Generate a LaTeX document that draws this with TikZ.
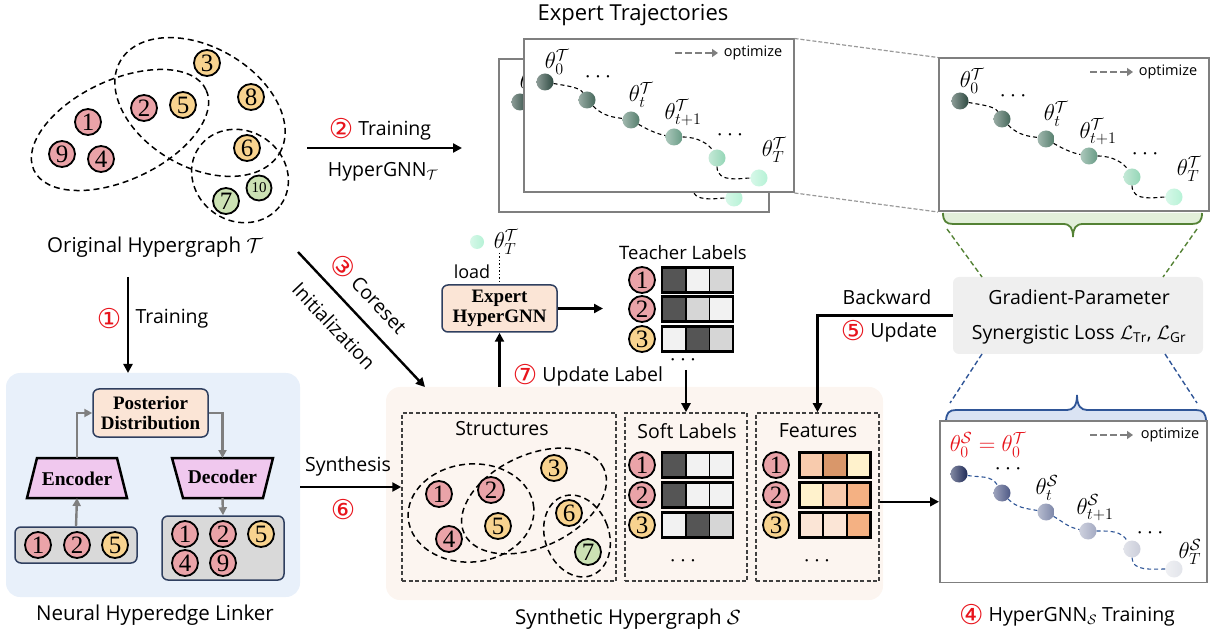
\RequirePackage{fix-cm}
\documentclass[tikz,border=0pt]{standalone}
\usepackage{fontspec}
\setmainfont{Open Sans}
\newfontfamily\serifb{Liberation Serif}
\newfontfamily\symf{DejaVu Sans}
\usetikzlibrary{arrows.meta,calc}
\definecolor{cpink}{HTML}{EAA3A8}
\definecolor{corange}{HTML}{F8D38F}
\definecolor{cgreen}{HTML}{CCE2B4}
\definecolor{peach}{HTML}{FBE5D6}
\definecolor{boxblue}{HTML}{2F3F5F}
\definecolor{panelblue}{HTML}{E8F0FA}
\definecolor{panelpeach}{HTML}{FCF5F0}
\definecolor{lav}{HTML}{F0C8EE}
\definecolor{gborder}{HTML}{7F7F7F}
\definecolor{bgreen}{HTML}{548235}
\definecolor{lgreen}{HTML}{E2EFDA}
\definecolor{bblue}{HTML}{2F5597}
\definecolor{lblue}{HTML}{DAE3F3}
\definecolor{cred}{HTML}{E8141C}
\definecolor{sdark}{HTML}{555555}
\definecolor{slight}{HTML}{F2F2F2}
\definecolor{smid}{HTML}{D6D6D6}
\definecolor{fa}{HTML}{F8CBAD}
\definecolor{fb}{HTML}{D9976A}
\definecolor{fc}{HTML}{FFF2CC}
\definecolor{fd}{HTML}{F4B183}
\definecolor{fe}{HTML}{FBE5D6}
\definecolor{gbg}{HTML}{EFEFEF}
\definecolor{ibg}{HTML}{D9D9D9}
\definecolor{t0}{HTML}{2E4A41}
\definecolor{t1}{HTML}{46685B}
\definecolor{t2}{HTML}{557E6D}
\definecolor{t3}{HTML}{689B85}
\definecolor{t4}{HTML}{94D6B6}
\definecolor{t5}{HTML}{B6F2D6}
\definecolor{s0}{HTML}{1E2A57}
\definecolor{s1}{HTML}{4D5885}
\definecolor{s2}{HTML}{7C86A8}
\definecolor{s3}{HTML}{A4AAC2}
\definecolor{s4}{HTML}{CACDDA}
\definecolor{s5}{HTML}{E2E4EA}
\newcommand\cn[1]{{\color{cred}\symf\fontsize{21}{21}\selectfont\raisebox{-0.13em}{\scalebox{1.3}{#1}}}}
\tikzset{
 vtx/.style={circle,draw=black,line width=1.8pt,minimum size=26pt,inner sep=0pt,font=\serifb\fontsize{25}{25}\selectfont},
 pk/.style={vtx,fill=cpink}, og/.style={vtx,fill=corange}, gn/.style={vtx,fill=cgreen},
 hedge/.style={line width=1.5pt,dash pattern=on 6pt off 4pt},
 arr/.style={line width=2.4pt,-{Triangle[length=9pt,width=9pt]}},
 garr/.style={line width=2.4pt,draw=gborder,-{Triangle[length=8pt,width=8pt]}},
 lbl/.style={font=\fontsize{19.5}{22}\selectfont, inner sep=1pt},
 mth/.style={font=\fontsize{23}{23}\selectfont, inner sep=0pt},
 optarr/.style={draw=gborder,line width=2.6pt,dash pattern=on 7pt off 3pt,-{Triangle[length=6pt,width=8pt]}},
 optx/.style={font=\fontsize{14.5}{14.5}\selectfont},
 panel/.style={draw=gborder,line width=1.5pt,fill=white,inner sep=0pt,anchor=south west},
 tball/.style={circle,inner sep=0pt,minimum size=17pt,left color=#1!55!white,right color=#1},
 gdash/.style={draw=gborder!80,line width=1.2pt,dash pattern=on 4pt off 2pt},
 pbox/.style={fill=peach,draw=boxblue,line width=1.5pt,rounded corners=6pt,align=center,inner sep=0pt,font=\serifb\bfseries\fontsize{19}{20}\selectfont},
 trap/.style={fill=lav,draw=black,line width=2.5pt},
 dbox/.style={draw=black!75,line width=1.5pt,dash pattern=on 4pt off 2.5pt,inner sep=0pt},
}
\newcommand\cellbar[4]{%
 \begin{scope}[shift={(#1)}]
 \fill[#2] (-35.5,-12.5) rectangle (-11.8,12.5);
 \fill[#3] (-11.8,-12.5) rectangle (11.8,12.5);
 \fill[#4] (11.8,-12.5) rectangle (35.5,12.5);
 \draw[line width=1.6pt] (-11.8,-12.5) -- (-11.8,12.5) (11.8,-12.5) -- (11.8,12.5);
 \draw[line width=2.6pt] (-35.5,-12.5) rectangle (35.5,12.5);
 \end{scope}}
\newcommand\trajT{%
 \node[panel,minimum width=270pt,minimum height=153pt] (pan) at (0,0) {};
 \node[tball=t0] (b0) at (22,111) {};
 \node[tball=t1] (b1) at (64,93) {};
 \node[tball=t2] (b2) at (108,73) {};
 \node[tball=t3] (b3) at (151,56) {};
 \node[tball=t4] (b4) at (194,35) {};
 \node[tball=t5] (b5) at (236,15) {};
 \draw[line width=1.1pt,dash pattern=on 4pt off 3pt] (b0) to[out=-10,in=120] (b1) to[out=-45,in=170] (b2) to[out=-30,in=170] (b3) to[out=0,in=120] (b4) to[out=-90,in=180] (b5);
 \node[mth] (l0) at (34,131) {$\theta_0^{\mathcal{T}}$};
 \node[mth] (d1) at (75,116) {$\cdots$};
 \node[mth] (lt) at (118,98) {$\theta_t^{\mathcal{T}}$};
 \node[mth] (lt1) at (160,80) {$\theta_{t+1}^{\mathcal{T}}$};
 \node[mth] (d2) at (207,58) {$\cdots$};
 \node[mth] (lT) at (251,43) {$\theta_T^{\mathcal{T}}$};
 \coordinate (oa) at (152,140); \coordinate (ob) at (195,140);
 \draw[optarr] (oa) -- (ob);
 \node[optx] (ot) at (230,140) {optimize};
}
\begin{document}
\begin{tikzpicture}[x=1pt,y=1pt]
\useasboundingbox (0,0) rectangle (1214,632);
% ---------- backgrounds ----------
\node[fill=panelblue,rounded corners=14pt,minimum width=294pt,minimum height=224pt,inner sep=0pt] (lk) at (153,147) {};
\node[fill=panelpeach,rounded corners=14pt,minimum width=497pt,minimum height=213pt,inner sep=0pt] (syn) at (634.5,138.5) {};
% ---------- original hypergraph ----------
\draw[hedge, rotate around={25:(120,502)}] (120,502) ellipse [x radius=95, y radius=50];
\draw[hedge, rotate around={-30:(200,525)}] (200,525) ellipse [x radius=92, y radius=60];
\draw[hedge, rotate around={-35:(240,456)}] (240,456) ellipse [x radius=50, y radius=45];
\node[og] (g3) at (207,569) {3};
\node[og] (g8) at (251,535) {8};
\node[pk] (g2) at (144,524) {2};
\node[og] (g5) at (183,527) {5};
\node[pk] (g1) at (88,510) {1};
\node[pk] (g9) at (62,478) {9};
\node[pk] (g4) at (101,473) {4};
\node[og] (g6) at (247,484) {6};
\node[gn,minimum size=25pt,font=\serifb\fontsize{15}{15}\selectfont] (g10) at (259,444) {10};
\node[gn] (g7) at (226,431) {7};
\node[lbl,font=\fontsize{20.5}{22}\selectfont] (orig) at (155,385) {Original Hypergraph $\mathcal{T}$};
% ---------- step 2 ----------
\coordinate (a2s) at (307,484); \coordinate (a2e) at (462,484);
\draw[arr] (a2s) -- (a2e);
\node[lbl] (t2) at (380,503) {\cn{②} Training};
\node[lbl] (hg) at (383,460) {HyperGNN$_{\mathcal{T}}$};
% ---------- expert trajectories ----------
\node[lbl,font=\fontsize{22}{24}\selectfont] (et) at (633,617) {Expert Trajectories};
\begin{scope}[shift={(498,419)}, name prefix=k-] \trajT \end{scope}
\begin{scope}[shift={(523,439)}, name prefix=f-] \trajT \end{scope}
\begin{scope}[shift={(938,420)}, name prefix=r-] \trajT \end{scope}
\draw[gdash] (f-pan.north east) -- (r-pan.north west);
\draw[gdash] (f-pan.south east) -- (r-pan.south west);
% green brace
\fill[lgreen] (943,419) .. controls (943,411) and (946,408) .. (953,408) -- (1063,408) .. controls (1070,408) and (1073,404) .. (1073,395) .. controls (1073,404) and (1076,408) .. (1083,408) -- (1192,408) .. controls (1199,408) and (1202,411) .. (1202,419) -- cycle;
\draw[bgreen,line width=1.8pt] (943,419) .. controls (943,411) and (946,408) .. (953,408) -- (1063,408) .. controls (1070,408) and (1073,404) .. (1073,395) .. controls (1073,404) and (1076,408) .. (1083,408) -- (1192,408) .. controls (1199,408) and (1202,411) .. (1202,419);
% ---------- gradient box ----------
\node[fill=gbg,rounded corners=6pt,minimum width=250pt,minimum height=77pt,inner sep=0pt] (grad) at (1078,316.5) {};
\node[lbl] (gp1) at (1079,335) {Gradient-Parameter};
\node[lbl] (gp2) at (1079,297) {Synergistic Loss $\mathcal{L}_{\mathrm{Tr}}$, $\mathcal{L}_{\mathrm{Gr}}$};
\coordinate (gl1) at (947,403); \coordinate (gl2) at (982,355);
\coordinate (gr1) at (1197,403); \coordinate (gr2) at (1163,355);
\draw[draw=bgreen,line width=1.4pt,dash pattern=on 5pt off 3pt] (gl1) -- (gl2) (gr1) -- (gr2);
\coordinate (bl1) at (982,278); \coordinate (bl2) at (950,229);
\coordinate (br1) at (1165,278); \coordinate (br2) at (1197,229);
\draw[draw=bblue,line width=1.4pt,dash pattern=on 5pt off 3pt] (bl1) -- (bl2) (br1) -- (br2);
\node[lbl] (bw) at (887,335) {Backward};
\node[lbl] (up5) at (889,301) {\cn{⑤} Update};
% ---------- bottom right panel ----------
\fill[lblue] (946,210) .. controls (946,219) and (949,222) .. (956,222) -- (1067,222) .. controls (1073,222) and (1077,226) .. (1077,237) .. controls (1077,226) and (1081,222) .. (1087,222) -- (1196,222) .. controls (1203,222) and (1206,219) .. (1206,210) -- cycle;
\draw[bblue,line width=1.8pt] (946,210) .. controls (946,219) and (949,222) .. (956,222) -- (1067,222) .. controls (1073,222) and (1077,226) .. (1077,237) .. controls (1077,226) and (1081,222) .. (1087,222) -- (1196,222) .. controls (1203,222) and (1206,219) .. (1206,210);
\node[panel,minimum width=267pt,minimum height=161pt] (sp) at (939,49) {};
\node[tball=s0] (sb0) at (959,158) {};
\node[tball=s1] (sb1) at (1002,139) {};
\node[tball=s2] (sb2) at (1046,120) {};
\node[tball=s3] (sb3) at (1088,101) {};
\node[tball=s4] (sb4) at (1132,83) {};
\node[tball=s5] (sb5) at (1174,63) {};
\draw[bblue,line width=1.1pt,dash pattern=on 4pt off 3pt] (sb0) to[out=-10,in=120] (sb1) to[out=-45,in=170] (sb2) to[out=-30,in=170] (sb3) to[out=0,in=120] (sb4) to[out=-90,in=180] (sb5);
\node[mth,text=cred] (sl0) at (988,187) {$\theta_0^{\mathcal{S}}=\theta_0^{\mathcal{T}}$};
\node[mth] (sd1) at (1008,163) {$\cdots$};
\node[mth] (slt) at (1047,144) {$\theta_t^{\mathcal{S}}$};
\node[mth] (slt1) at (1095,124) {$\theta_{t+1}^{\mathcal{S}}$};
\node[mth] (sd2) at (1150,99) {$\cdots$};
\node[mth] (slT) at (1190,80) {$\theta_T^{\mathcal{S}}$};
\coordinate (soa) at (1090,197); \coordinate (sob) at (1133,197);
\draw[optarr] (soa) -- (sob);
\node[optx] (sot) at (1170,197) {optimize};
\node[lbl] (s4) at (1067,17) {\cn{④} HyperGNN$_{\mathcal{S}}$ Training};
% ---------- teacher ----------
\node[tball=t5,minimum size=14pt] (tb) at (477,390) {};
\node[mth] (tbl) at (506,390) {$\theta_T^{\mathcal{T}}$};
\node[lbl,font=\fontsize{18}{20}\selectfont] (load) at (472,360) {load};
\node[pbox,minimum width=115pt,minimum height=47pt] (exb) at (499.5,323.5) {Expert\\HyperGNN};
\coordinate (ldtop) at (499.5,379);
\draw[line width=1.5pt,dotted] (ldtop) -- (exb.north);
\coordinate (tlin) at (603,323.5);
\draw[arr] (exb.east) -- (tlin);
\node[lbl,font=\fontsize{18.5}{20}\selectfont] (tl) at (683,379) {Teacher Labels};
\node[pk] (tc1) at (642,352) {1};
\node[pk] (tc2) at (642,323) {2};
\node[og] (tc3) at (642,293) {3};
\cellbar{697.5,352}{sdark}{slight}{smid}
\cellbar{697.5,323}{sdark}{smid}{slight}
\cellbar{697.5,293}{slight}{sdark}{smid}
\node[mth] (tdots) at (683,272) {$\cdots$};
\node[lbl] (u7) at (588,257) {\cn{⑦} Update Label};
% ---------- coreset ----------
\coordinate (a3s) at (298,380); \coordinate (a3e) at (425,245);
\draw[arr] (a3s) -- (a3e);
\node[lbl,rotate=-46.6] (cs) at (369,338) {\cn{③} Coreset};
\node[lbl,rotate=-46.6] (ini) at (334,306) {Initialization};
% ---------- step 1 ----------
\coordinate (a1s) at (128,355); \coordinate (a1e) at (128,259);
\draw[arr] (a1s) -- (a1e);
\node[lbl] (n1) at (109,313) {\cn{①}};
\node[lbl] (tr1) at (172,313) {Training};
% ---------- linker ----------
\node[pbox,minimum width=115pt,minimum height=48pt] (post) at (150.5,219) {Posterior\\Distribution};
\draw[trap] (27,134) -- (127,134) -- (117,174) -- (37,174) -- cycle;
\draw[trap] (172,174) -- (273,174) -- (263,134) -- (183,134) -- cycle;
\node[font=\serifb\bfseries\fontsize{19.5}{20}\selectfont] (enc) at (77,153) {Encoder};
\node[font=\serifb\bfseries\fontsize{19.5}{20}\selectfont] (dec) at (222.5,155) {Decoder};
\coordinate (enct) at (77,174); \coordinate (encb) at (77,134);
\coordinate (dect) at (222.5,174); \coordinate (decb) at (222.5,134);
\node[fill=ibg,draw=boxblue,line width=1.5pt,rounded corners=6pt,minimum width=122pt,minimum height=36pt,inner sep=0pt] (inbox) at (76,87) {};
\node[pk] (i1) at (38,87) {1};
\node[pk] (i2) at (77,87) {2};
\node[og] (i5) at (115,87) {5};
\node[fill=ibg,draw=boxblue,line width=1.5pt,rounded corners=6pt,minimum width=122pt,minimum height=64pt,inner sep=0pt] (outbox) at (223,84) {};
\node[pk] (o1) at (185,98) {1};
\node[pk] (o2) at (223,98) {2};
\node[og] (o5) at (261,98) {5};
\node[pk] (o4) at (185,69) {4};
\node[pk] (o9) at (223,69) {9};
\draw[garr] (enct) |- (post.west);
\draw[garr] (post.east) -| (dect);
\draw[garr] (inbox.north) -- (encb);
\draw[garr] (decb) -- (outbox.north);
\node[lbl,font=\fontsize{20.5}{22}\selectfont] (lkt) at (155,17) {Neural Hyperedge Linker};
% ---------- synthetic hypergraph ----------
\node[dbox,minimum width=214pt,minimum height=168pt] (struct) at (509,135) {};
\node[dbox,minimum width=122pt,minimum height=168pt] (soft) at (686,135) {};
\node[dbox,minimum width=123pt,minimum height=168pt] (feat) at (817.5,135) {};
\node[lbl] (stt) at (502,203) {Structures};
\node[lbl] (sft) at (687,201) {Soft Labels};
\node[lbl] (ftt) at (818,201) {Features};
\draw[hedge, rotate around={5:(471,119)}] (471,119) ellipse [x radius=63, y radius=49];
\draw[hedge, rotate around={25:(534,131)}] (534,131) ellipse [x radius=77, y radius=46];
\draw[hedge, rotate around={20:(577,96)}] (577,96) ellipse [x radius=32, y radius=42];
\node[pk] (h1) at (439,138) {1};
\node[pk] (h2) at (491,142) {2};
\node[og] (h3) at (554,164) {3};
\node[pk] (h4) at (449,93) {4};
\node[og] (h5) at (498,106) {5};
\node[og] (h6) at (569,119) {6};
\node[gn] (h7) at (588,80) {7};
\node[pk] (sc1) at (642,167) {1};
\node[pk] (sc2) at (642,137) {2};
\node[og] (sc3) at (642,107) {3};
\cellbar{697.5,167}{sdark}{slight}{slight}
\cellbar{697.5,137}{sdark}{slight}{slight}
\cellbar{697.5,107}{slight}{sdark}{smid}
\node[mth] (sdots) at (683,71) {$\cdots$};
\node[pk] (fc1) at (776,167) {1};
\node[pk] (fc2) at (776,137) {2};
\node[og] (fc3) at (776,107) {3};
\cellbar{835,167}{fa}{fb}{fc}
\cellbar{835,137}{fc}{fa}{fd}
\cellbar{835,107}{fe}{fe}{fd}
\node[mth] (fdots) at (817,71) {$\cdots$};
\node[lbl,font=\fontsize{20.5}{22}\selectfont] (synt) at (628,13) {Synthetic Hypergraph $\mathcal{S}$};
% ---------- connectors ----------
\draw[arr] (lk.east |- 0,145) -- (struct.west |- 0,145);
\node[lbl] (syt) at (348,166) {Synthesis};
\node[lbl] (n6) at (343,122) {\cn{⑥}};
\draw[arr] (exb.south |- syn.north) -- (exb.south);
\draw[arr] (soft.north |- 0,262) -- (soft.north);
\draw[arr] (grad.west) -| (feat.north);
\draw[arr] (feat.east |- sp.west) -- (sp.west);
\end{tikzpicture}
\end{document}
